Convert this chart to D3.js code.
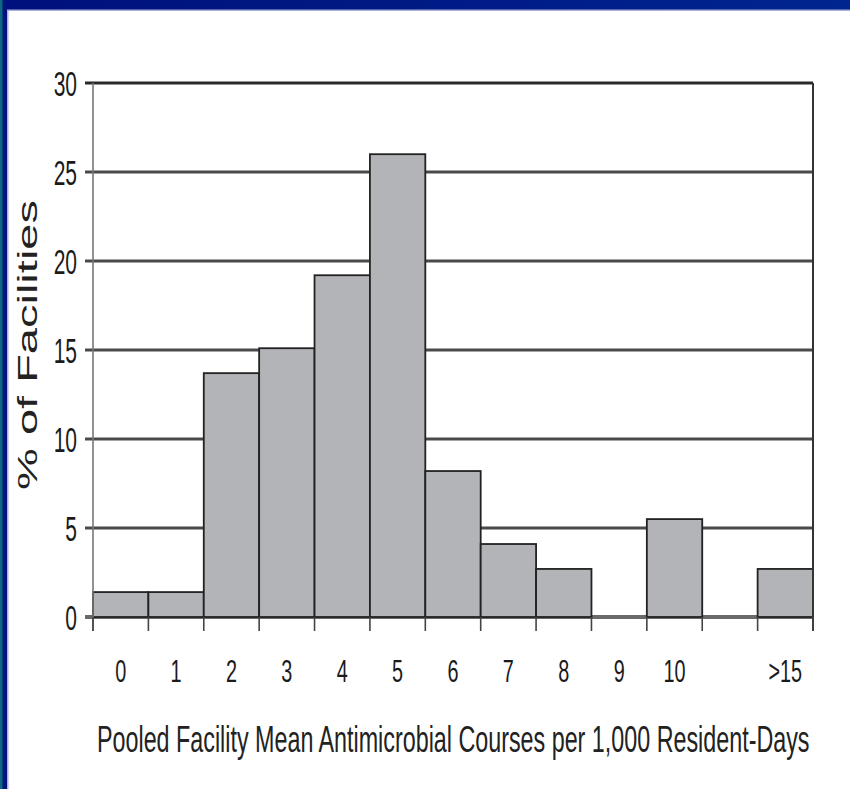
<!DOCTYPE html>
<html>
<head>
<meta charset="utf-8">
<script src="https://cdn.jsdelivr.net/npm/d3@7"></script>
<style>
  html, body { margin: 0; padding: 0; background: #fff; }
  svg { display: block; }
</style>
</head>
<body>
<div id="chart"></div>
<script>
// bins of the histogram
const categories = ["0", "1", "2", "3", "4", "5", "6", "7", "8", "9", "10", "11-15", ">15"];
const tickLabels = ["0", "1", "2", "3", "4", "5", "6", "7", "8", "9", "10", "", ">15"];
const percentFacilities = [1.4, 1.4, 13.7, 15.1, 19.2, 26.0, 8.2, 4.1, 2.7, 0, 5.5, 0, 2.7];
const yTicks = [0, 5, 10, 15, 20, 25, 30];

const width = 850, height = 789;
const plotLeft = 93, plotRight = 813, plotTop = 83, plotBottom = 617;
const font = "Liberation Sans, Arial, sans-serif";

const svg = d3.select("#chart").append("svg")
  .attr("width", width)
  .attr("height", height);

// slide frame (blue bands)
const defs = svg.append("defs");
const grad = defs.append("linearGradient").attr("id", "band");
grad.append("stop").attr("offset", "0%").attr("stop-color", "#00107c");
grad.append("stop").attr("offset", "100%").attr("stop-color", "#00258e");

svg.append("rect").attr("x", 0).attr("y", 0).attr("width", width).attr("height", height).attr("fill", "#fff");
svg.append("rect").attr("x", 0).attr("y", 9).attr("width", width).attr("height", 2).attr("fill", "#a9b0dc");
svg.append("rect").attr("x", 7).attr("y", 9).attr("width", 1.5).attr("height", height).attr("fill", "#a9b0dc");
svg.append("rect").attr("x", 0).attr("y", 0).attr("width", width).attr("height", 9.5).attr("fill", "url(#band)");
svg.append("rect").attr("x", 0).attr("y", 0).attr("width", 7).attr("height", height).attr("fill", "#00137f");
svg.append("rect").attr("x", 0).attr("y", 0).attr("width", 2.5).attr("height", height).attr("fill", "#0b6a80");

const x = d3.scaleBand().domain(categories).range([plotLeft, plotRight]).padding(0);
const y = d3.scaleLinear().domain([0, 30]).range([plotBottom, plotTop]);

// gridlines
svg.append("g")
  .selectAll("line")
  .data(yTicks.filter(d => d > 0))
  .join("line")
  .attr("x1", plotLeft - 8)
  .attr("x2", plotRight)
  .attr("y1", d => y(d))
  .attr("y2", d => y(d))
  .attr("stroke", d => d === 30 ? "#2a2a2a" : "#4a4a4a")
  .attr("stroke-width", d => d === 30 ? 3.2 : 2.8);

// baseline
svg.append("line")
  .attr("x1", plotLeft - 8).attr("x2", plotRight)
  .attr("y1", y(0)).attr("y2", y(0))
  .attr("stroke", "#6a6a6c").attr("stroke-width", 4);

// bars
svg.append("g")
  .selectAll("rect")
  .data(percentFacilities.map((v, i) => ({ cat: categories[i], value: v })).filter(d => d.value > 0))
  .join("rect")
  .attr("x", d => x(d.cat))
  .attr("y", d => y(d.value))
  .attr("width", x.bandwidth())
  .attr("height", d => y(0) - y(d.value))
  .attr("fill", "#b3b4b8")
  .attr("stroke", "#222")
  .attr("stroke-width", 1.8);

// frame verticals
svg.append("line")
  .attr("x1", plotLeft).attr("x2", plotLeft)
  .attr("y1", plotTop).attr("y2", plotBottom + 14)
  .attr("stroke", "#777").attr("stroke-width", 1.6);
svg.append("line")
  .attr("x1", plotRight).attr("x2", plotRight)
  .attr("y1", plotTop).attr("y2", plotBottom + 14)
  .attr("stroke", "#333").attr("stroke-width", 2);

// x axis: tick marks at bin edges, labels at bin centres
const edges = d3.range(categories.length + 1).map(i => plotLeft + i * x.bandwidth());
svg.append("g")
  .selectAll("line")
  .data(edges)
  .join("line")
  .attr("x1", d => d).attr("x2", d => d)
  .attr("y1", plotBottom).attr("y2", plotBottom + 14)
  .attr("stroke", "#444").attr("stroke-width", 1.6);

const xAxis = svg.append("g")
  .attr("transform", `translate(0,${plotBottom})`)
  .call(d3.axisBottom(x).tickSize(0).tickFormat((d, i) => tickLabels[i]));
xAxis.select(".domain").remove();
xAxis.selectAll("text")
  .attr("y", 0)
  .attr("dy", 0)
  .attr("transform", "translate(0,65) scale(0.62,1)")
  .attr("font-family", font)
  .attr("font-size", 32)
  .attr("fill", "#1a1a1a");

// y axis
const yAxis = svg.append("g")
  .attr("transform", `translate(${plotLeft},0)`)
  .call(d3.axisLeft(y).tickValues(yTicks).tickSize(0));
yAxis.select(".domain").remove();
yAxis.selectAll("text")
  .attr("x", 0)
  .attr("dy", "0.36em")
  .attr("transform", "translate(-16,0) scale(0.6,1)")
  .attr("font-family", font)
  .attr("font-size", 35)
  .attr("fill", "#1a1a1a");

// text squeezed/stretched to a given length
function fitText(str, size, tx, ty, len, rot, anchor) {
  const t = svg.append("text")
    .attr("font-family", font)
    .attr("font-size", size)
    .attr("fill", "#222")
    .attr("text-anchor", anchor)
    .text(str);
  const w = t.node().getComputedTextLength();
  t.attr("transform", `translate(${tx},${ty}) rotate(${rot}) scale(${len / w},1)`);
  return t;
}

// y axis label
fitText("% of Facilities", 27, 37, 345, 290, -90, "middle");

// x axis title
fitText("Pooled Facility Mean Antimicrobial Courses per 1,000 Resident-Days", 37, 97, 752, 713, 0, "start");
</script>
</body>
</html>
